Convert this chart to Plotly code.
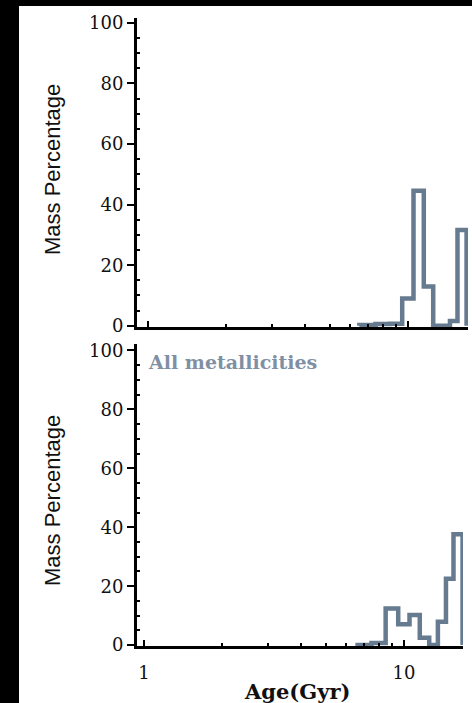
import math
import plotly.graph_objects as go

# ---- data ----
age_edges = [6.5, 7.5, 8.5, 9.5, 10.5, 11.5, 12.5, 13.5, 14.5, 15.5, 16.8]
mass_top = [0.3, 0.6, 0.7, 9.0, 44.6, 13.0, 0.0, 0.0, 1.6, 31.6]
mass_bottom = [0.0, 0.7, 12.4, 7.1, 10.2, 2.5, 0.0, 7.9, 22.5, 37.6]
y_ticks = [0, 20, 40, 60, 80, 100]
y_minor = [v for v in range(5, 100, 5) if v % 20 != 0]
x_ticks = [1, 10]
x_ticklabels = ["1", "10"]
x_minor = [2, 3, 4, 5, 6, 7, 8, 9]
panel_label = "All metallicities"
y_title = "Mass Percentage"
x_title = "Age(Gyr)"

W, H = 472, 703
LINE = "#667b90"
SERIF = "DejaVu Serif"


def fx(p):
    return p / W


def fy(p):
    return 1 - p / H


def outline(edges, vals):
    xs, ys = [edges[0]], [0]
    for i, v in enumerate(vals):
        xs += [edges[i], edges[i + 1]]
        ys += [v, v]
    xs.append(edges[-1])
    ys.append(0)
    return xs, ys


fig = go.Figure()
for vals, xa, ya in [(mass_top, "x", "y"), (mass_bottom, "x3", "y3")]:
    xs, ys = outline(age_edges, vals)
    fig.add_trace(go.Scatter(x=xs, y=ys, mode="lines", xaxis=xa, yaxis=ya,
                             line=dict(color=LINE, width=4.5), showlegend=False,
                             hoverinfo="skip"))

tick_font = dict(family=SERIF, size=18, color="#111")


def x_main(domain, rng, anchor, labels):
    return dict(type="log", domain=domain, range=rng, anchor=anchor,
                showline=True, linewidth=3, linecolor="black", mirror=False,
                ticks="inside", ticklen=6, tickwidth=1.5, tickcolor="black",
                tickvals=x_ticks, ticktext=x_ticklabels,
                showticklabels=labels, tickfont=tick_font, ticklabelstandoff=8,
                minor=dict(tickvals=x_minor, ticks="inside", ticklen=3,
                           tickwidth=1.5, tickcolor="black", showgrid=False),
                showgrid=False, zeroline=False, fixedrange=True, automargin=False)


def x_top(overlay, rng, anchor):
    return dict(type="log", overlaying=overlay, side="top", range=rng, anchor=anchor,
                showline=True, linewidth=1.5, linecolor="black",
                ticks="inside", ticklen=5, tickwidth=1.5, tickcolor="black",
                tickvals=x_ticks, showticklabels=False,
                minor=dict(tickvals=x_minor, ticks="inside", ticklen=3,
                           tickwidth=1.5, tickcolor="black", showgrid=False),
                showgrid=False, zeroline=False, fixedrange=True, automargin=False)


def y_main(domain, rng, anchor):
    return dict(domain=domain, range=rng, anchor=anchor,
                showline=True, linewidth=3, linecolor="black",
                ticks="outside", ticklen=7, tickwidth=1.5, tickcolor="black",
                tickvals=y_ticks, tickfont=tick_font,
                minor=dict(tickvals=y_minor, ticks="inside", ticklen=3,
                           tickwidth=1.5, tickcolor="black", showgrid=False),
                showgrid=False, zeroline=False, fixedrange=True, automargin=False)


def y_right(overlay, rng, anchor):
    return dict(overlaying=overlay, side="right", range=rng, anchor=anchor,
                showline=True, linewidth=1.5, linecolor="black",
                ticks="inside", ticklen=7, tickwidth=1.5, tickcolor="black",
                tickvals=y_ticks, showticklabels=False,
                minor=dict(tickvals=y_minor, ticks="inside", ticklen=4,
                           tickwidth=1.5, tickcolor="black", showgrid=False),
                showgrid=False, zeroline=False, fixedrange=True, automargin=False)


xr_top = [(137 - 148) / 260, (468 - 148) / 260]
xr_bot = [(137 - 144) / 260, (463 - 144) / 260]
yr_top = [-0.4, 101.6]
yr_bot = [-0.3, 102.2]

title_font = dict(family="Liberation Sans Narrow, Liberation Sans", size=22, color="#111")

fig.update_layout(
    width=W, height=H,
    margin=dict(l=0, r=0, t=0, b=0, pad=0, autoexpand=False),
    paper_bgcolor="black", plot_bgcolor="white",
    xaxis=x_main([fx(137), fx(468)], xr_top, "y", False),
    xaxis2=x_top("x", xr_top, "y"),
    yaxis=y_main([fy(327), fy(18)], yr_top, "x"),
    yaxis2=y_right("y", yr_top, "x"),
    xaxis3=x_main([fx(137), fx(463)], xr_bot, "y3", True),
    xaxis4=x_top("x3", xr_bot, "y3"),
    yaxis3=y_main([fy(646), fy(344)], yr_bot, "x3"),
    yaxis4=y_right("y3", yr_bot, "x3"),
    shapes=[dict(type="rect", xref="paper", yref="paper", x0=fx(19), x1=1,
                 y0=0, y1=fy(6), fillcolor="white", line=dict(width=0),
                 layer="below")],
    annotations=[
        dict(text=y_title, xref="paper", yref="paper", x=fx(52), y=fy(170),
             xanchor="center", yanchor="middle",
             textangle=-90, showarrow=False, font=title_font),
        dict(text=y_title, xref="paper", yref="paper", x=fx(52), y=fy(501),
             xanchor="center", yanchor="middle",
             textangle=-90, showarrow=False, font=title_font),
        dict(text=x_title, xref="paper", yref="paper", x=fx(297), y=fy(691),
             xanchor="center", yanchor="middle", showarrow=False,
             font=dict(family=SERIF, size=21, color="#111", weight="bold")),
        dict(text=panel_label, xref="paper", yref="paper", x=fx(146), y=fy(362),
             xanchor="left", yanchor="middle", showarrow=False,
             font=dict(family=SERIF, size=19, color="#8090a4", weight="bold")),
    ],
)

fig.write_html("out.html")
